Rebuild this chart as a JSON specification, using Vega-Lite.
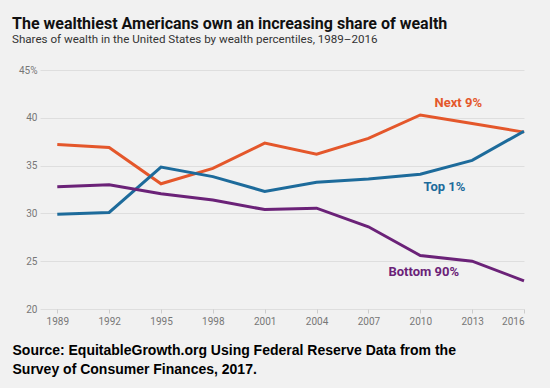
{
  "$schema": "https://vega.github.io/schema/vega-lite/v6.json",
  "width": 484,
  "height": 239,
  "autosize": {"type": "none"},
  "padding": {"left": 40, "top": 70, "right": 26, "bottom": 79},
  "background": "#f1f1f1",
  "title": {
    "text": "The wealthiest Americans own an increasing share of wealth",
    "subtitle": "Shares of wealth in the United States by wealth percentiles, 1989–2016",
    "anchor": "start",
    "frame": "group",
    "dx": -28,
    "offset": 19,
    "font": "Roboto",
    "fontSize": 16,
    "fontWeight": "bold",
    "color": "#111111",
    "subtitleFont": "Roboto",
    "subtitleFontSize": 11.6,
    "subtitleColor": "#333333",
    "subtitlePadding": 2
  },
  "datasets": {
    "shares": [
      {"year": 1989, "series": "Next 9%", "value": 37.2},
      {"year": 1992, "series": "Next 9%", "value": 36.9},
      {"year": 1995, "series": "Next 9%", "value": 33.1},
      {"year": 1998, "series": "Next 9%", "value": 34.7},
      {"year": 2001, "series": "Next 9%", "value": 37.35},
      {"year": 2004, "series": "Next 9%", "value": 36.2},
      {"year": 2007, "series": "Next 9%", "value": 37.85},
      {"year": 2010, "series": "Next 9%", "value": 40.3},
      {"year": 2013, "series": "Next 9%", "value": 39.4},
      {"year": 2016, "series": "Next 9%", "value": 38.5},
      {"year": 1989, "series": "Top 1%", "value": 29.9},
      {"year": 1992, "series": "Top 1%", "value": 30.1},
      {"year": 1995, "series": "Top 1%", "value": 34.85},
      {"year": 1998, "series": "Top 1%", "value": 33.85},
      {"year": 2001, "series": "Top 1%", "value": 32.3},
      {"year": 2004, "series": "Top 1%", "value": 33.25},
      {"year": 2007, "series": "Top 1%", "value": 33.6},
      {"year": 2010, "series": "Top 1%", "value": 34.1},
      {"year": 2013, "series": "Top 1%", "value": 35.55},
      {"year": 2016, "series": "Top 1%", "value": 38.6},
      {"year": 1989, "series": "Bottom 90%", "value": 32.8},
      {"year": 1992, "series": "Bottom 90%", "value": 33.0},
      {"year": 1995, "series": "Bottom 90%", "value": 32.05},
      {"year": 1998, "series": "Bottom 90%", "value": 31.4},
      {"year": 2001, "series": "Bottom 90%", "value": 30.4},
      {"year": 2004, "series": "Bottom 90%", "value": 30.55},
      {"year": 2007, "series": "Bottom 90%", "value": 28.6},
      {"year": 2010, "series": "Bottom 90%", "value": 25.6},
      {"year": 2013, "series": "Bottom 90%", "value": 25.0},
      {"year": 2016, "series": "Bottom 90%", "value": 22.95}
    ],
    "labels": [
      {"year": 2012.2, "series": "Next 9%", "value": 41.5, "text": "Next 9%"},
      {"year": 2011.4, "series": "Top 1%", "value": 32.75, "text": "Top 1%"},
      {"year": 2010.2, "series": "Bottom 90%", "value": 23.85, "text": "Bottom 90%"}
    ]
  },
  "encoding": {
    "x": {
      "field": "year",
      "type": "quantitative",
      "scale": {"domain": [1988, 2016], "nice": false, "zero": false},
      "axis": {
        "values": [1989, 1992, 1995, 1998, 2001, 2004, 2007, 2010, 2013, 2016],
        "format": "d",
        "grid": false,
        "domain": false,
        "ticks": true,
        "tickSize": 4,
        "tickColor": "#cccccc",
        "labelFont": "Roboto",
        "labelFontSize": 10,
        "labelColor": "#777777",
        "labelPadding": 3,
        "title": ["Source: EquitableGrowth.org Using Federal Reserve Data from the", "Survey of Consumer Finances, 2017."],
        "titleAnchor": "start",
        "titleAlign": "left",
        "titleBaseline": "alphabetic",
        "titleX": -28,
        "titleY": 45,
        "titleFont": "Liberation Sans",
        "titleFontSize": 14,
        "titleFontWeight": "bold",
        "titleColor": "#000000",
        "titleLineHeight": 19
      }
    },
    "y": {
      "field": "value",
      "type": "quantitative",
      "scale": {"domain": [20, 45], "nice": false, "zero": false},
      "axis": {
        "values": [20, 25, 30, 35, 40, 45],
        "labelExpr": "datum.value == 45 ? '45%' : datum.label",
        "grid": true,
        "gridColor": "#dedede",
        "gridWidth": 1,
        "domain": false,
        "ticks": false,
        "labelFont": "Roboto",
        "labelFontSize": 10,
        "labelColor": "#777777",
        "labelPadding": 3,
        "title": null
      }
    },
    "color": {
      "field": "series",
      "type": "nominal",
      "scale": {"domain": ["Next 9%", "Top 1%", "Bottom 90%"], "range": ["#e4572b", "#1d6b9b", "#6b2278"]},
      "legend": null
    }
  },
  "layer": [
    {
      "data": {"name": "shares"},
      "mark": {"type": "line", "strokeWidth": 3, "strokeJoin": "miter"},
      "encoding": {"detail": {"field": "series"}}
    },
    {
      "data": {"name": "labels"},
      "mark": {"type": "text", "font": "Roboto", "fontSize": 13, "fontWeight": "bold", "align": "center", "baseline": "middle"},
      "encoding": {"text": {"field": "text"}}
    }
  ],
  "config": {"view": {"stroke": null}}
}
